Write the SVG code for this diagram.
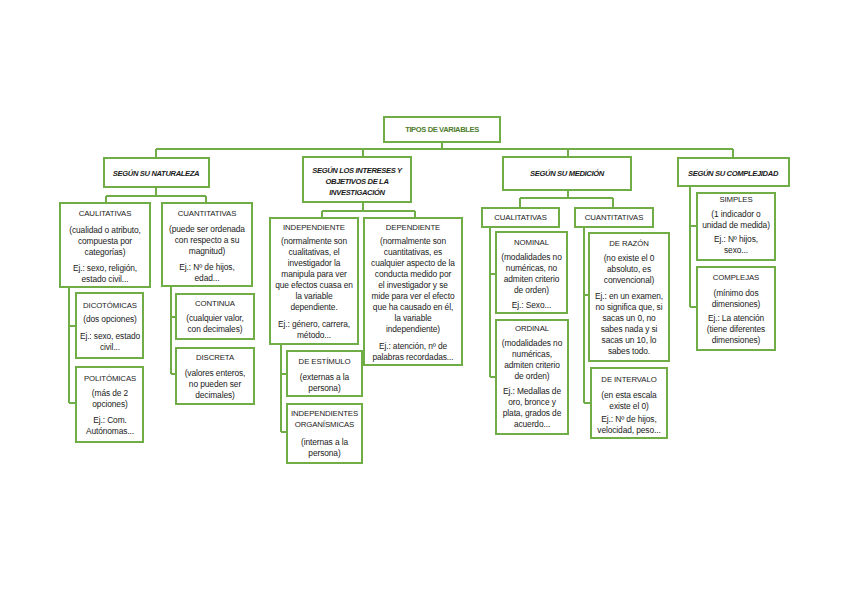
<svg xmlns="http://www.w3.org/2000/svg" width="848" height="599" viewBox="0 0 848 599">
<style>
.b{fill:#fff;stroke:#70AD47;stroke-width:2}
.c{fill:none;stroke:#70AD47;stroke-width:2}
text{font-family:"Liberation Sans",Arial,sans-serif;font-size:8.4px;fill:#1a1a1a;text-anchor:middle;letter-spacing:-0.1px}
.h{font-weight:bold;font-style:italic;font-size:7.6px;letter-spacing:-0.35px}
.t{font-weight:bold;font-size:7.6px;letter-spacing:-0.4px;fill:#4E7D2E}
.s{font-size:7.8px;letter-spacing:-0.1px}
</style>
<rect width="848" height="599" fill="#fff"/>
<g id="connectors">
<path class="c" d="M442 142V149M156 149H733M156 149V158M363 149V157M568 149V157M733 149V158"/>
<path class="c" d="M156 187V196M106 196H206M106 196V203M206 196V203"/>
<path class="c" d="M69 287V403M69 326H76M69 403H76"/>
<path class="c" d="M171 286V374M171 317H176M171 374H176"/>
<path class="c" d="M363 202V211M322 211H415M322 211V218M415 211V218"/>
<path class="c" d="M281 344V432M281 374H287M281 432H287"/>
<path class="c" d="M568 190V198M520 198H613M520 198V208M613 198V208"/>
<path class="c" d="M490 227V377M490 274H496M490 377H496"/>
<path class="c" d="M584 227V403M584 295H589M584 403H591"/>
<path class="c" d="M690 186V307M690 226H697M690 307H697"/>
</g>
<g id="tipos"><rect class="b" x="384" y="117" width="116" height="25"/><text class="t" x="442" y="132">TIPOS DE VARIABLES</text></g>
<g id="naturaleza"><rect class="b" x="104" y="158" width="105" height="29"/><text class="h" x="156" y="176">SEGÚN SU NATURALEZA</text></g>
<g id="intereses"><rect class="b" x="303" y="157" width="108" height="45"/><text class="h" x="357" y="173">SEGÚN LOS INTERESES Y</text><text class="h" x="357" y="184">OBJETIVOS DE LA</text><text class="h" x="357" y="195">INVESTIGACIÓN</text></g>
<g id="medicion"><rect class="b" x="503" y="157" width="128" height="33"/><text class="h" x="567" y="176">SEGÚN SU MEDICIÓN</text></g>
<g id="complejidad"><rect class="b" x="678" y="158" width="111" height="28"/><text class="h" x="733" y="176">SEGÚN SU COMPLEJIDAD</text></g>

<g id="caulitativas"><rect class="b" x="60" y="203" width="90" height="84"/>
<text class="s" x="105" y="216">CAULITATIVAS</text><text x="105" y="233">(cualidad o atributo,</text><text x="105" y="244">compuesta por</text><text x="105" y="255">categorías)</text><text x="105" y="271">Ej.: sexo, religión,</text><text x="105" y="282">estado civil...</text></g>
<g id="cuantitativas1"><rect class="b" x="162" y="203" width="90" height="83"/>
<text class="s" x="207" y="216">CUANTITATIVAS</text><text x="207" y="232">(puede ser ordenada</text><text x="207" y="243">con respecto a su</text><text x="207" y="254">magnitud)</text><text x="207" y="270">Ej.: Nº de hijos,</text><text x="207" y="281">edad...</text></g>
<g id="dicotomicas"><rect class="b" x="76" y="293" width="67" height="65"/>
<text class="s" x="110" y="308">DICOTÓMICAS</text><text x="110" y="322">(dos opciones)</text><text x="110" y="339">Ej.: sexo, estado</text><text x="110" y="350">civil...</text></g>
<g id="politomicas"><rect class="b" x="76" y="367" width="67" height="75"/>
<text class="s" x="110" y="381">POLITÓMICAS</text><text x="110" y="396">(más de 2</text><text x="110" y="407">opciones)</text><text x="110" y="423">Ej.: Com.</text><text x="110" y="434">Autónomas...</text></g>
<g id="continua"><rect class="b" x="176" y="294" width="78" height="45"/>
<text class="s" x="215" y="306">CONTINUA</text><text x="215" y="321">(cualquier valor,</text><text x="215" y="332">con decimales)</text></g>
<g id="discreta"><rect class="b" x="176" y="348" width="78" height="56"/>
<text class="s" x="215" y="360">DISCRETA</text><text x="215" y="376">(valores enteros,</text><text x="215" y="387">no pueden ser</text><text x="215" y="398">decimales)</text></g>

<g id="independiente"><rect class="b" x="270" y="218" width="88" height="126"/>
<text class="s" x="314" y="230">INDEPENDIENTE</text><text x="314" y="244">(normalmente son</text><text x="314" y="255">cualitativas, el</text><text x="314" y="266">investigador la</text><text x="314" y="277">manipula para ver</text><text x="314" y="288">que efectos cuasa en</text><text x="314" y="299">la variable</text><text x="314" y="310">dependiente.</text><text x="314" y="327">Ej.: género, carrera,</text><text x="314" y="338">método...</text></g>
<g id="dependiente"><rect class="b" x="364" y="218" width="98" height="147"/>
<text class="s" x="413" y="230">DEPENDIENTE</text><text x="413" y="244">(normalmente son</text><text x="413" y="255">cuantitativas, es</text><text x="413" y="266">cualquier aspecto de la</text><text x="413" y="277">conducta medido por</text><text x="413" y="288">el investigador y se</text><text x="413" y="299">mide para ver el efecto</text><text x="413" y="310">que ha causado en él,</text><text x="413" y="321">la variable</text><text x="413" y="332">independiente)</text><text x="413" y="349">Ej.: atención, nº de</text><text x="413" y="360">palabras recordadas...</text></g>
<g id="estimulo"><rect class="b" x="287" y="351" width="75" height="45"/>
<text class="s" x="324.5" y="364">DE ESTÍMULO</text><text x="324.5" y="380">(externas a la</text><text x="324.5" y="391">persona)</text></g>
<g id="organismicas"><rect class="b" x="287" y="404" width="75" height="59"/>
<text class="s" x="324.5" y="416">INDEPENDIENTES</text><text class="s" x="324.5" y="427">ORGANÍSMICAS</text><text x="324.5" y="445">(internas a la</text><text x="324.5" y="456">persona)</text></g>

<g id="cualitativas2"><rect class="b" x="482" y="208" width="77" height="19"/><text class="s" x="520.5" y="220">CUALITATIVAS</text></g>
<g id="cuantitativas2"><rect class="b" x="575" y="208" width="78" height="19"/><text class="s" x="614" y="220">CUANTITATIVAS</text></g>
<g id="nominal"><rect class="b" x="496" y="232" width="71" height="81"/>
<text class="s" x="531.5" y="245">NOMINAL</text><text x="531.5" y="260">(modalidades no</text><text x="531.5" y="271">numéricas, no</text><text x="531.5" y="282">admiten criterio</text><text x="531.5" y="293">de orden)</text><text x="531.5" y="308">Ej.: Sexo...</text></g>
<g id="ordinal"><rect class="b" x="496" y="320" width="72" height="114"/>
<text class="s" x="532" y="331">ORDINAL</text><text x="532" y="346">(modalidades no</text><text x="532" y="357">numéricas,</text><text x="532" y="368">admiten criterio</text><text x="532" y="379">de orden)</text><text x="532" y="394">Ej.: Medallas de</text><text x="532" y="405">oro, bronce y</text><text x="532" y="416">plata, grados de</text><text x="532" y="427">acuerdo...</text></g>
<g id="razon"><rect class="b" x="589" y="233" width="80" height="128"/>
<text class="s" x="629" y="246">DE RAZÓN</text><text x="629" y="261">(no existe el 0</text><text x="629" y="272">absoluto, es</text><text x="629" y="283">convencional)</text><text x="629" y="299">Ej.: en un examen,</text><text x="629" y="310">no significa que, si</text><text x="629" y="321">sacas un 0, no</text><text x="629" y="332">sabes nada y si</text><text x="629" y="343">sacas un 10, lo</text><text x="629" y="354">sabes todo.</text></g>
<g id="intervalo"><rect class="b" x="591" y="368" width="76" height="70"/>
<text class="s" x="629" y="382">DE INTERVALO</text><text x="629" y="398">(en esta escala</text><text x="629" y="409">existe el 0)</text><text x="629" y="422">Ej.: Nº de hijos,</text><text x="629" y="433">velocidad, peso...</text></g>

<g id="simples"><rect class="b" x="697" y="193" width="78" height="67"/>
<text class="s" x="736" y="202">SIMPLES</text><text x="736" y="217">(1 indicador o</text><text x="736" y="228">unidad de medida)</text><text x="736" y="242">Ej.: Nº hijos,</text><text x="736" y="253">sexo...</text></g>
<g id="complejas"><rect class="b" x="697" y="267" width="78" height="83"/>
<text class="s" x="736" y="280">COMPLEJAS</text><text x="736" y="296">(mínimo dos</text><text x="736" y="307">dimensiones)</text><text x="736" y="321">Ej.: La atención</text><text x="736" y="332">(tiene diferentes</text><text x="736" y="343">dimensiones)</text></g>
</svg>
